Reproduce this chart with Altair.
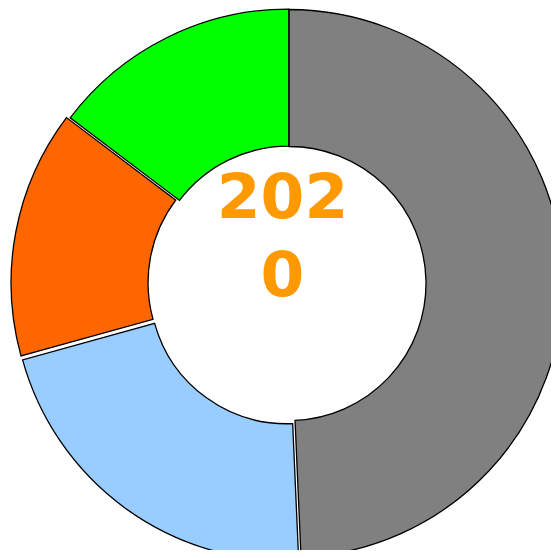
import math
import altair as alt
import pandas as pd

labels = ["Gray", "Blue", "Orange", "Green"]
values = [49.3, 21.4, 14.6, 14.7]
colors = ["#808080", "#99CCFF", "#FF6600", "#00FF00"]
explode = [0, 4, 4, 0.5]
center_text = "202\n0"

CX, CY = 281, 275.5
R_OUT, R_IN = 274, 137

total = sum(values)
rows = []
acc = 0.0
for lab, v, c, e in zip(labels, values, colors, explode):
    t0 = acc / total * 2 * math.pi
    acc += v
    t1 = acc / total * 2 * math.pi
    mid = (t0 + t1) / 2
    rows.append({"label": lab, "value": v, "t0": t0, "t1": t1,
                 "cx": CX + e * math.sin(mid), "cy": CY - e * math.cos(mid)})
df = pd.DataFrame(rows)

arcs = alt.Chart(df).mark_arc(
    innerRadius=R_IN, outerRadius=R_OUT, stroke="black", strokeWidth=1.3
).encode(
    theta=alt.Theta("t0:Q", scale=None),
    theta2="t1:Q",
    x=alt.X("cx:Q", scale=None),
    y=alt.Y("cy:Q", scale=None),
    color=alt.Color("label:N", scale=alt.Scale(domain=labels, range=colors), legend=None),
)

txt = alt.Chart(pd.DataFrame({"t": [center_text]})).mark_text(
    font="DejaVu Sans", fontWeight="bold", fontSize=63, color="#FF9900",
    align="center", baseline="alphabetic", lineBreak="\n", lineHeight=78
).encode(
    text="t:N", x=alt.value(274.5), y=alt.value(210)
)

chart = alt.layer(arcs, txt).properties(
    width=543, height=542, padding=0, autosize=alt.AutoSizeParams(type="none")
).configure_view(stroke=None)

chart.save("out.html", embed_options={"renderer": "svg", "actions": False})
